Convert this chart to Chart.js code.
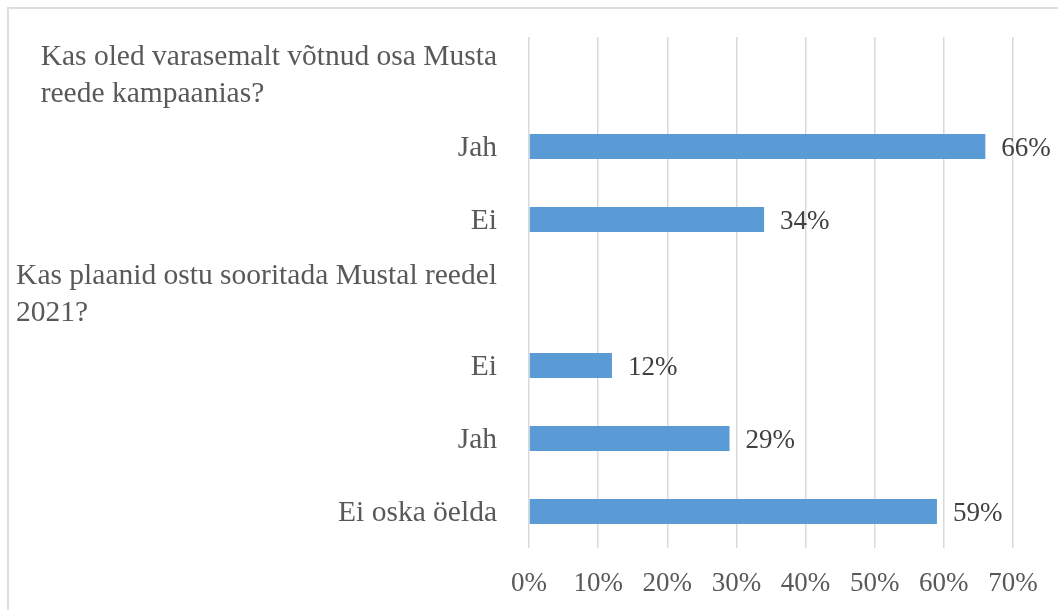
<!DOCTYPE html>
<html>
<head>
<meta charset="utf-8">
<script src="https://cdn.jsdelivr.net/npm/chart.js@4"></script>
<style>
  html, body { margin: 0; padding: 0; background: #fff; overflow: hidden; }
  #wrap { position: relative; width: 1058px; height: 610px; }
  #frame { position: absolute; left: 7px; top: 7px; width: 1200px; height: 800px;
           border-left: 2px solid #dedede; border-top: 2px solid #dedede; }
  canvas { position: absolute; left: 0; top: 0; }
</style>
</head>
<body>
<div id="wrap">
  <div id="frame"></div>
  <canvas id="surveyChart" width="1058" height="610"></canvas>
</div>
<script>
// question rows have no bar, answer rows carry the share of respondents
const categories = [
  ['Kas oled varasemalt võtnud osa Musta', 'reede kampaanias?'],
  'Jah',
  'Ei',
  ['Kas plaanid ostu sooritada Mustal reedel', '2021?'],
  'Ei',
  'Jah',
  'Ei oska öelda'
];
const shares = [null, 66, 34, null, 12, 29, 59];
const xTicks = [0, 10, 20, 30, 40, 50, 60, 70];

const serif = '"Liberation Serif", "Times New Roman", serif';

// category labels: plain answers are right-aligned, question blocks are
// right-aligned as a block with their lines left-aligned inside it
const yLabels = {
  id: 'yLabels',
  afterDraw(chart) {
    const ctx = chart.ctx;
    const y = chart.scales.y;
    const right = chart.chartArea.left - 32;
    ctx.save();
    ctx.fillStyle = '#595959';
    ctx.font = '29.5px ' + serif;
    ctx.textBaseline = 'middle';
    categories.forEach((label, i) => {
      const cy = y.getPixelForTick(i) + 2;
      if (Array.isArray(label)) {
        const w = Math.max(...label.map(l => ctx.measureText(l).width));
        const lh = 37;
        const top = cy - (label.length - 1) * lh / 2;
        ctx.textAlign = 'left';
        label.forEach((line, k) => ctx.fillText(line, right - w, top + k * lh));
      } else {
        ctx.textAlign = 'right';
        ctx.fillText(label, right, cy);
      }
    });
    ctx.restore();
  }
};

// value labels to the right of each bar
const valueLabels = {
  id: 'valueLabels',
  afterDatasetsDraw(chart) {
    const ctx = chart.ctx;
    const meta = chart.getDatasetMeta(0);
    ctx.save();
    ctx.fillStyle = '#404040';
    ctx.font = '27px ' + serif;
    ctx.textAlign = 'left';
    ctx.textBaseline = 'middle';
    meta.data.forEach((bar, i) => {
      if (shares[i] == null) return;
      ctx.fillText(shares[i] + '%', bar.x + 16, bar.y + 2);
    });
    ctx.restore();
  }
};

new Chart(document.getElementById('surveyChart').getContext('2d'), {
  type: 'bar',
  data: {
    labels: categories,
    datasets: [{
      data: shares,
      backgroundColor: '#5b9bd5',
      borderWidth: 0,
      categoryPercentage: 1,
      barPercentage: 0.345
    }]
  },
  options: {
    indexAxis: 'y',
    responsive: false,
    animation: false,
    layout: { padding: { top: 37, right: 45, left: 0, bottom: 0 } },
    plugins: {
      legend: { display: false },
      tooltip: { enabled: false }
    },
    scales: {
      x: {
        min: xTicks[0],
        max: xTicks[xTicks.length - 1],
        afterBuildTicks: scale => { scale.ticks = xTicks.map(v => ({ value: v })); },
        afterFit: scale => { scale.height = 62; },
        border: { display: false },
        grid: { color: '#d9d9d9', lineWidth: 1.5, drawTicks: false },
        ticks: {
          padding: 20,
          color: '#595959',
          font: { family: serif, size: 27 },
          callback: v => v + '%'
        }
      },
      y: {
        afterFit: scale => { scale.width = 529; },
        border: { display: false },
        grid: { display: false },
        ticks: { display: false }
      }
    }
  },
  plugins: [yLabels, valueLabels]
});
</script>
</body>
</html>
